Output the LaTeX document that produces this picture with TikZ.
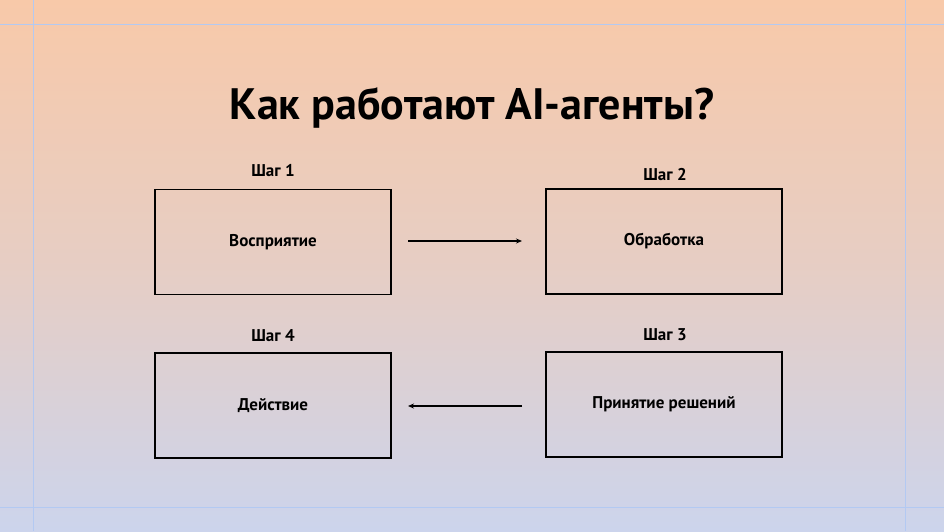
\documentclass[tikz,border=0pt]{standalone}
\usepackage{fontspec}
\setmainfont{PT Sans}
\usetikzlibrary{arrows.meta}
\definecolor{topc}{HTML}{F8C9A9}
\definecolor{botc}{HTML}{CCD4EC}
\definecolor{guide}{HTML}{B3C9F2}
\begin{document}
\begin{tikzpicture}[x=1pt,y=-1pt,
  box/.style={draw=black,line width=1.2pt,minimum width=236pt,minimum height=105pt,inner sep=0pt,font=\fontsize{17}{20}\selectfont\bfseries},
  lbl/.style={font=\fontsize{17}{20}\selectfont\bfseries},
  conn/.style={line width=1.2pt,-{Stealth[length=6pt,width=5pt]}}]
\shade[top color=topc,bottom color=botc,middle color=topc!60!botc] (0,0) rectangle (944,531);
\useasboundingbox (0,0) rectangle (944,531);
\draw[guide,line width=0.8pt] (33,0)--(33,531) (905,0)--(905,531) (0,24)--(944,24) (0,507)--(944,507);
\node[font=\fontsize{44}{50}\selectfont\bfseries] (title) at (472,108) {Как работают AI-агенты?};
\node[box] (b1) at (273,242) {Восприятие};
\node[box] (b2) at (664,241.5) {Обработка};
\node[box] (b4) at (273,405.5) {Действие};
\node[box] (b3) at (664,404.5) {Принятие решений};
\node[lbl] (l1) at (273,171) {Шаг 1};
\node[lbl] (l2) at (665,174) {Шаг 2};
\node[lbl] (l4) at (273,336) {Шаг 4};
\node[lbl] (l3) at (665,335) {Шаг 3};
\coordinate (a1s) at (408,241); \coordinate (a1e) at (522,241);
\coordinate (a2s) at (522,406); \coordinate (a2e) at (408,406);
\draw[conn] (a1s) -- (a1e);
\draw[conn] (a2s) -- (a2e);
\end{tikzpicture}
\end{document}
